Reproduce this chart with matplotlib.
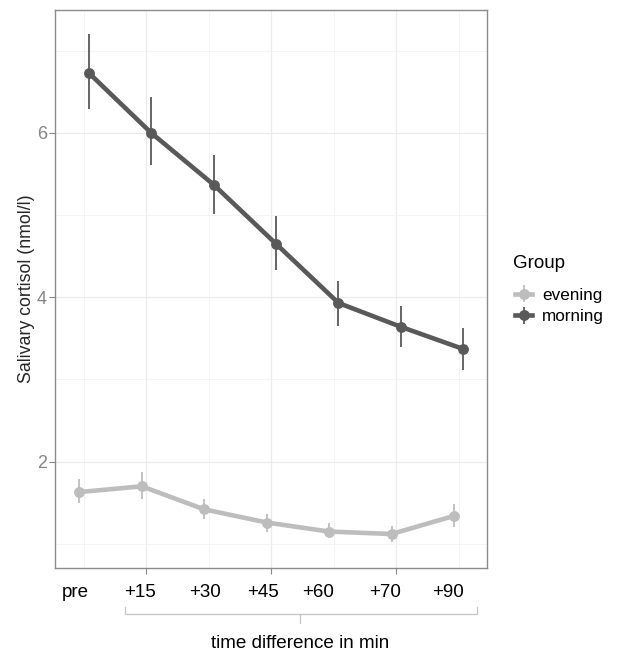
import numpy as np
import matplotlib
matplotlib.use("Agg")
import matplotlib.pyplot as plt
from matplotlib.ticker import FixedLocator

plt.rcParams['font.family'] = ['Liberation Sans', 'DejaVu Sans']

# data
times = ["pre", "+15", "+30", "+45", "+60", "+70", "+90"]
groups = ["evening", "morning"]

evening_mean = [1.63, 1.70, 1.42, 1.26, 1.15, 1.12, 1.34]
evening_lo = [1.50, 1.55, 1.30, 1.15, 1.07, 1.02, 1.21]
evening_hi = [1.79, 1.87, 1.54, 1.36, 1.25, 1.22, 1.48]

morning_mean = [6.73, 6.00, 5.37, 4.65, 3.93, 3.64, 3.37]
morning_lo = [6.29, 5.61, 5.01, 4.33, 3.65, 3.40, 3.12]
morning_hi = [7.20, 6.43, 5.73, 4.99, 4.20, 3.89, 3.63]

# x position (data units) of the hand-placed time labels
label_x = [0.86, 1.90, 2.94, 3.87, 4.75, 5.82, 6.83]

colors = {"evening": "#bdbdbd", "morning": "#595959"}
dodge = {"evening": -0.075, "morning": 0.075}

fig = plt.figure(figsize=(6.24, 6.53), dpi=100)
ax = fig.add_axes([0.0886, 0.1306, 0.6914, 0.8536])

x = np.arange(1, len(times) + 1)
series = {
    "evening": (evening_mean, evening_lo, evening_hi),
    "morning": (morning_mean, morning_lo, morning_hi),
}

handles = []
for g in groups:
    m, lo, hi = [np.array(v) for v in series[g]]
    xx = x + dodge[g]
    h = ax.errorbar(xx, m, yerr=[m - lo, hi - m], color=colors[g],
                    lw=3.3, marker="o", ms=6.8, elinewidth=1.3,
                    capsize=0, zorder=3, label=g)
    handles.append(h)

ax.set_xlim(0.54, 7.45)
ax.set_ylim(0.71, 7.49)

ax.xaxis.set_major_locator(FixedLocator([2, 4, 6]))
ax.xaxis.set_minor_locator(FixedLocator([1, 3, 5, 7]))
ax.yaxis.set_major_locator(FixedLocator([2, 4, 6]))
ax.yaxis.set_minor_locator(FixedLocator([1, 3, 5, 7]))
ax.set_xticklabels([])
ax.tick_params(axis="x", which="major", length=4, color="#888888")
ax.tick_params(axis="y", which="major", length=4, color="#888888",
               labelsize=13, labelcolor="#858585", pad=2)
ax.tick_params(which="minor", length=0)

ax.grid(True, which="major", color="#ebebeb", lw=0.9)
ax.grid(True, which="minor", color="#f3f3f3", lw=0.6)
ax.set_axisbelow(True)
for s in ax.spines.values():
    s.set_color("#8c8c8c")
    s.set_linewidth(1.0)

ax.set_ylabel("Salivary cortisol (nmol/l)", fontsize=12.8, color="#262626",
              labelpad=1)

# time labels under the panel
tr = ax.get_xaxis_transform()
for lx, t in zip(label_x, times):
    ax.text(lx, -0.0436, t, transform=tr, ha="center", va="center",
            fontsize=13.5, color="black", clip_on=False)

# bracket from +15 to +90
bx0, bx1, bmid = 1.657, 7.30, 4.46
by, bend, btip = -0.083, -0.0705, -0.099
ax.plot([bx0, bx0, bx1, bx1], [bend, by, by, bend], transform=tr,
        color="#c4c4c4", lw=0.9, clip_on=False)
ax.plot([bmid, bmid], [by, btip], transform=tr, color="#c4c4c4", lw=0.9,
        clip_on=False)
ax.text(bmid, -0.1365, "time difference in min", transform=tr, ha="center",
        va="center", fontsize=13.6, color="black", clip_on=False)

fig.text(513 / 624, 1 - 263 / 653, "Group", ha="left", va="center",
         fontsize=13.5, color="black")
leg = fig.legend(handles=handles, labels=groups,
                 loc="upper left", bbox_to_anchor=(506 / 624, 1 - 279 / 653),
                 frameon=False, fontsize=12.3,
                 handlelength=1.05, handletextpad=0.55,
                 labelspacing=0.4, borderpad=0)

fig.savefig("out.png", dpi=100)
